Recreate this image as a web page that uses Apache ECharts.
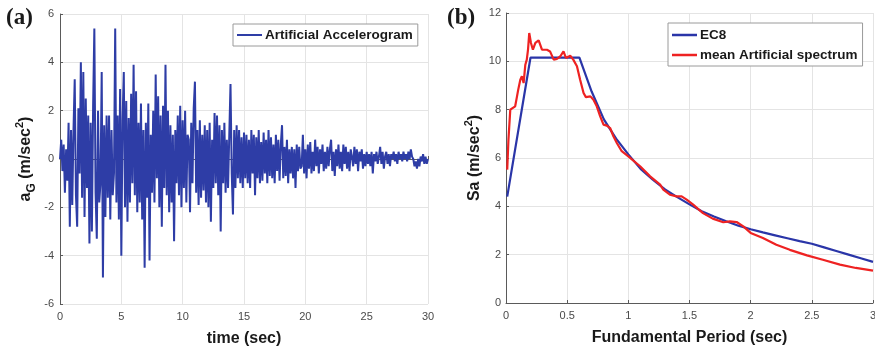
<!DOCTYPE html>
<html>
<head>
<meta charset="utf-8">
<script src="https://cdn.jsdelivr.net/npm/echarts@6/dist/echarts.min.js"></script>
<style>
  html, body { margin: 0; padding: 0; background: #fff; }
  #chart { width: 875px; height: 347px; }
</style>
</head>
<body>
<div id="chart"></div>
<script>
// Ground acceleration record, one value every 0.1 s from 0 to 30 s (m/sec^2)
const accelStep = 0.1;
const accelValues = [
  0.0, 0.8, -0.5, 0.6, -1.4, 0.4, -0.9, 1.5, -2.8, 1.2,
  -1.9, 1.2, 3.3, -1.5, -2.8, 2.1, -0.6, 4.0, -1.6, 3.6,
  -2.4, 2.5, -1.2, 1.8, -3.5, 1.5, -3.0, 2.2, 5.4, -1.4,
  -3.3, 2.0, -1.8, -1.0, 3.6, -4.9, 1.4, -2.4, 1.8, -1.6,
  1.8, -2.5, 1.2, -1.5, -0.6, 5.4, -1.8, 1.8, -2.5, 2.9,
  -4.0, 1.6, 3.6, -2.0, 2.4, -2.6, 1.7, -1.8, 2.7, -1.0,
  3.9, -1.5, 2.8, -2.2, 1.5, -1.8, 2.3, -2.5, 1.2, -4.5,
  1.5, -1.6, 2.3, -4.2, 1.0, -1.4, 2.0, -1.8, 3.5, -0.8,
  2.6, -2.0, 1.8, -2.8, 2.2, -1.2, 3.9, -1.5, 2.0, -2.2,
  1.4, -1.8, 1.0, -3.4, 1.2, -1.0, 1.8, -1.5, 2.2, -2.0,
  1.6, -1.2, 2.0, -1.8, 1.0, 0.8, -2.2, 1.5, -1.0, 2.1,
  3.2, -1.4, 1.2, -1.9, 1.6, -1.6, 1.0, -1.3, 1.4, -1.8,
  1.2, -2.0, 1.5, -2.6, 0.8, -1.2, 1.9, -1.0, 1.8, -1.5,
  1.4, -3.0, 1.2, -1.0, 1.5, -1.4, 0.8, -1.2, 1.0, 3.1,
  -0.6, -2.3, 1.2, -1.2, 1.4, -0.8, 1.2, -1.0, 0.9, -1.2,
  1.1, -0.8, 1.0, -1.0, 0.8, -1.2, 1.2, -0.6, 1.0, -1.5,
  0.9, -0.8, 1.2, -1.0, 0.7, -0.9, 1.1, -0.6, 0.8, -1.0,
  1.2, -0.7, 0.9, -0.8, 0.6, -1.0, 1.0, -0.5, 0.8, -0.9,
  0.6, 1.4, -0.8, 0.5, -0.7, 0.8, -1.0, 0.4, -0.6, 0.5,
  -0.8, 0.4, -1.2, 0.6, -0.5, 0.5, -0.4, -0.3, 1.0, -0.6,
  0.4, -0.8, 0.6, -0.4, 0.7, -0.6, 0.3, -0.5, 0.8, -0.3,
  0.5, -0.6, 0.4, -0.2, 0.6, -0.5, 0.3, -0.4, 0.5, -0.3,
  0.4, 0.8, -0.5, 0.3, -0.7, 0.4, -0.3, 0.6, -0.4, 0.3,
  -0.5, 0.6, -0.2, 0.5, -0.4, 0.3, -0.5, 0.4, 0.1, -0.3,
  0.5, -0.2, 0.4, -0.5, 0.3, -0.1, 0.4, -0.4, 0.2, -0.3,
  0.3, -0.2, 0.2, -0.3, 0.3, -0.6, 0.2, -0.1, 0.3, -0.2,
  0.1, 0.5, -0.2, 0.3, -0.4, 0.1, 0.3, -0.2, 0.2, -0.3,
  0.2, 0.0, 0.3, -0.1, 0.2, -0.2, 0.3, 0.0, 0.2, -0.1,
  0.3, 0.0, 0.2, -0.1, 0.3, 0.0, 0.4, 0.1, 0.0, -0.3,
  -0.1, -0.4, 0.0, -0.3, 0.1, -0.1, 0.2, -0.2, 0.1, -0.2,
  0.0
];

// EC8 design spectrum: period (sec) and spectral acceleration (m/sec^2)
const ec8Period = [0.01, 0.2, 0.6, 0.7, 0.8, 0.9, 1.0, 1.1, 1.2, 1.3, 1.4, 1.5, 1.6, 1.7, 1.8, 1.9, 2.0, 2.1, 2.2, 2.3, 2.4, 2.5, 2.6, 2.7, 2.8, 2.9, 3.0];
const ec8Sa = [4.4, 10.15, 10.15, 8.75, 7.6, 6.8, 6.15, 5.55, 5.1, 4.7, 4.38, 4.08, 3.8, 3.58, 3.38, 3.2, 3.05, 2.92, 2.8, 2.68, 2.56, 2.45, 2.3, 2.15, 2.0, 1.85, 1.7];

// Mean spectrum of the artificial records
const meanPeriod = [0.01, 0.02, 0.035, 0.075, 0.09, 0.10, 0.117, 0.13, 0.144, 0.158, 0.17, 0.18, 0.19, 0.204, 0.22, 0.24, 0.267, 0.294, 0.31, 0.335, 0.36, 0.39, 0.416, 0.443, 0.47, 0.49, 0.525, 0.55, 0.58, 0.606, 0.634, 0.653, 0.69, 0.715, 0.742, 0.77, 0.797, 0.824, 0.851, 0.878, 0.906, 0.946, 1.0, 1.096, 1.178, 1.26, 1.286, 1.34, 1.395, 1.436, 1.477, 1.53, 1.61, 1.69, 1.776, 1.83, 1.885, 1.94, 2.0, 2.1, 2.21, 2.32, 2.46, 2.59, 2.73, 2.86, 3.0];
const meanSa = [5.52, 6.76, 8.0, 8.14, 8.55, 8.83, 9.24, 9.38, 9.1, 9.86, 10.07, 10.48, 11.17, 10.76, 10.48, 10.76, 10.87, 10.48, 10.55, 10.48, 10.41, 10.07, 10.1, 10.2, 10.41, 10.14, 10.23, 10.07, 9.8, 9.24, 8.69, 8.52, 8.55, 8.41, 8.14, 7.72, 7.38, 7.34, 7.24, 6.9, 6.62, 6.28, 6.07, 5.66, 5.24, 4.9, 4.69, 4.48, 4.41, 4.41, 4.28, 4.07, 3.72, 3.49, 3.34, 3.38, 3.35, 3.17, 2.9, 2.69, 2.41, 2.2, 1.97, 1.79, 1.59, 1.45, 1.34];

const accelPairs = accelValues.map((v, i) => [+(i * accelStep).toFixed(1), v]);
const ec8Pairs = ec8Period.map((t, i) => [t, ec8Sa[i]]);
const meanPairs = meanPeriod.map((t, i) => [t, meanSa[i]]);

const FONT = '"Liberation Sans", Arial, sans-serif';
const tickLabel = { color: '#4a4a4a', fontSize: 11, fontFamily: FONT };
const axisLine = { show: true, lineStyle: { color: '#5a5a5a', width: 1 } };
const axisTick = { show: true, inside: true, length: 3, lineStyle: { color: '#5a5a5a' } };
const splitLine = { show: true, lineStyle: { color: '#e4e4e4', width: 1 } };
const titleStyle = { fontSize: 16, fontWeight: 'bold', fontFamily: FONT, color: '#1a1a1a' };

const yNameRich = {
  fontSize: 16, fontWeight: 'bold', fontFamily: FONT, color: '#1a1a1a',
  rich: {
    m: { fontSize: 16, fontWeight: 'bold', fontFamily: FONT, color: '#1a1a1a', lineHeight: 24, verticalAlign: 'middle' },
    sub: { fontSize: 12, fontWeight: 'bold', fontFamily: FONT, color: '#1a1a1a', lineHeight: 12, verticalAlign: 'bottom' },
    sup: { fontSize: 11, fontWeight: 'bold', fontFamily: FONT, color: '#1a1a1a', lineHeight: 11, verticalAlign: 'top' }
  }
};

const legendText = { fontSize: 13.5, fontWeight: 'bold', fontFamily: FONT, color: '#1a1a1a', padding: [0, 0, 0, -2] };

const chart = echarts.init(document.getElementById('chart'), null, { renderer: 'canvas' });

chart.setOption({
  backgroundColor: '#ffffff',
  animation: false,
  grid: [
    { left: 60, top: 14, width: 368, height: 290, outerBoundsMode: 'none', containLabel: false },
    { left: 506, top: 13, width: 367, height: 290, outerBoundsMode: 'none', containLabel: false }
  ],
  xAxis: [
    {
      gridIndex: 0, type: 'value', min: 0, max: 30, interval: 5,
      name: 'time (sec)', nameLocation: 'middle', nameGap: 27, nameTextStyle: titleStyle,
      axisLine, axisTick, splitLine, axisLabel: Object.assign({ margin: 7 }, tickLabel)
    },
    {
      gridIndex: 1, type: 'value', min: 0, max: 3, interval: 0.5,
      name: 'Fundamental Period (sec)', nameLocation: 'middle', nameGap: 27, nameTextStyle: titleStyle,
      axisLine, axisTick, splitLine, axisLabel: Object.assign({ margin: 7 }, tickLabel)
    }
  ],
  yAxis: [
    {
      gridIndex: 0, type: 'value', min: -6, max: 6, interval: 2,
      name: '{m|a}{sub|G}{m| (m/sec}{sup|2}{m|)}', nameLocation: 'middle', nameGap: 22,
      nameTextStyle: yNameRich,
      axisLine, axisTick, splitLine, axisLabel: Object.assign({ margin: 6 }, tickLabel)
    },
    {
      gridIndex: 1, type: 'value', min: 0, max: 12, interval: 2,
      name: '{m|Sa (m/sec}{sup|2}{m|)}', nameLocation: 'middle', nameGap: 19,
      nameTextStyle: yNameRich,
      axisLine, axisTick, splitLine, axisLabel: Object.assign({ margin: 5 }, tickLabel)
    }
  ],
  legend: [
    {
      data: ['Artificial Accelerogram'],
      left: 233, top: 24,
      orient: 'vertical',
      icon: 'rect', itemWidth: 25, itemHeight: 2,
      padding: [4, 5, 4, 4],
      borderColor: '#9a9a9a', borderWidth: 1, backgroundColor: '#ffffff',
      textStyle: legendText
    },
    {
      data: ['EC8', 'mean Artificial spectrum'],
      left: 668, top: 23,
      orient: 'vertical',
      icon: 'rect', itemWidth: 25, itemHeight: 2.5, itemGap: 6,
      padding: [5, 5, 4, 4],
      borderColor: '#9a9a9a', borderWidth: 1, backgroundColor: '#ffffff',
      textStyle: legendText
    }
  ],
  graphic: [
    { type: 'text', left: 6, top: 7, style: { text: '(a)', font: 'bold 23px "Liberation Serif", "Times New Roman", serif', fill: '#1a1a1a' } },
    { type: 'text', left: 447, top: 7, style: { text: '(b)', font: 'bold 23px "Liberation Serif", "Times New Roman", serif', fill: '#1a1a1a' } }
  ],
  series: [
    {
      name: 'Artificial Accelerogram', type: 'line', xAxisIndex: 0, yAxisIndex: 0,
      data: accelPairs, showSymbol: false, symbol: 'none',
      lineStyle: { color: '#2e3da6', width: 2.0 }, itemStyle: { color: '#2e3da6' }
    },
    {
      name: 'EC8', type: 'line', xAxisIndex: 1, yAxisIndex: 1,
      data: ec8Pairs, showSymbol: false, symbol: 'none',
      lineStyle: { color: '#2a35a8', width: 2.2 }, itemStyle: { color: '#2a35a8' }
    },
    {
      name: 'mean Artificial spectrum', type: 'line', xAxisIndex: 1, yAxisIndex: 1,
      data: meanPairs, showSymbol: false, symbol: 'none',
      lineStyle: { color: '#ee2222', width: 2.2 }, itemStyle: { color: '#ee2222' }
    }
  ]
});
</script>
</body>
</html>
